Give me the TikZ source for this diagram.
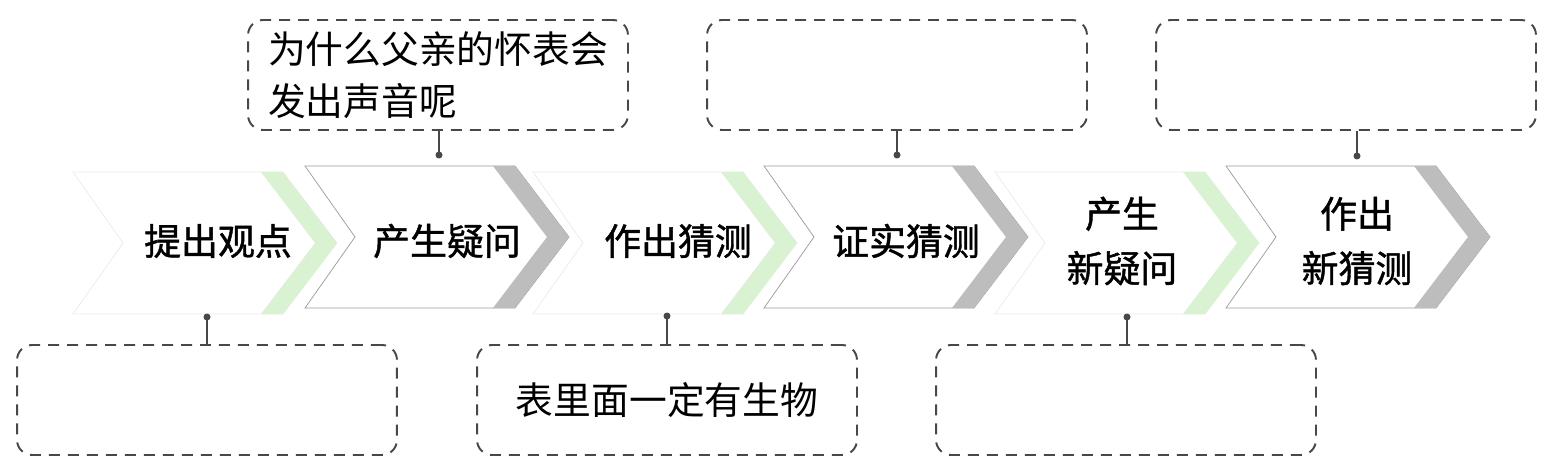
\documentclass[tikz,border=0pt]{standalone}
\usepackage{fontspec}
\setmainfont{Noto Sans CJK SC}
\newfontfamily\stagefont[BoldFont=Noto Sans CJK SC, BoldFeatures={FakeBold=1.2}]{Noto Sans CJK SC}
\usepackage{tikz}
\usetikzlibrary{positioning}

\definecolor{bandgreen}{HTML}{D9F3D2}
\definecolor{bandgrey}{HTML}{BDBDBD}
\definecolor{inkgrey}{HTML}{484848}

\begin{document}
\begin{tikzpicture}[
  x=0.02cm, y=-0.02cm,
  note/.style={draw=inkgrey, line width=1.1pt, dash pattern=on 0.22cm off 0.16cm,
    rounded corners=0.3cm, minimum width=7.6cm, minimum height=2.2cm, inner sep=0pt,
    font=\fontsize{21.5}{29.5}\selectfont, align=left},
  stage/.style={font=\stagefont\bfseries\fontsize{21}{31}\selectfont, align=center, inner sep=0pt},
  rimdark/.style={draw=black!40, line width=0.4pt, fill=white},
  rimlight/.style={draw=black!8, line width=0.4pt, fill=white},
  knob/.style={circle, fill=inkgrey, minimum size=0.14cm, inner sep=0pt},
  linkline/.style={draw=inkgrey, line width=1pt}
]
  \useasboundingbox (0,0) rectangle (1556,466);

  % chevrons
  \path[rimlight] (73,172) -- (283,172) -- (337,243) -- (283,314) -- (73,314) -- (123,243) -- cycle;
  \fill[bandgreen] (261,172) -- (283,172) -- (337,243) -- (283,314) -- (261,314) -- (315,243) -- cycle;
  \path[rimdark] (305,166) -- (515,166) -- (569,237) -- (515,308) -- (305,308) -- (355,237) -- cycle;
  \fill[bandgrey] (493,166) -- (515,166) -- (569,237) -- (515,308) -- (493,308) -- (547,237) -- cycle;
  \path[rimlight] (533,172) -- (743,172) -- (797,243) -- (743,314) -- (533,314) -- (583,243) -- cycle;
  \fill[bandgreen] (721,172) -- (743,172) -- (797,243) -- (743,314) -- (721,314) -- (775,243) -- cycle;
  \path[rimdark] (764,166) -- (974,166) -- (1028,237) -- (974,308) -- (764,308) -- (814,237) -- cycle;
  \fill[bandgrey] (952,166) -- (974,166) -- (1028,237) -- (974,308) -- (952,308) -- (1006,237) -- cycle;
  \path[rimlight] (995,172) -- (1205,172) -- (1259,243) -- (1205,314) -- (995,314) -- (1045,243) -- cycle;
  \fill[bandgreen] (1183,172) -- (1205,172) -- (1259,243) -- (1205,314) -- (1183,314) -- (1237,243) -- cycle;
  \path[rimdark] (1226,166) -- (1436,166) -- (1490,237) -- (1436,308) -- (1226,308) -- (1276,237) -- cycle;
  \fill[bandgrey] (1414,166) -- (1436,166) -- (1490,237) -- (1436,308) -- (1414,308) -- (1468,237) -- cycle;

  \node[stage] (s1) at (218,241) {提出观点};
  \node[stage] (s2) at (447,241) {产生疑问};
  \node[stage] (s3) at (678,241) {作出猜测};
  \node[stage] (s4) at (906,241) {证实猜测};
  \node[stage] (s5) at (1122,241) {产生\\新疑问};
  \node[stage] (s6) at (1357,241) {作出\\新猜测};

  % dashed boxes
  \node[note] (q1) at (438,75) {为什么父亲的怀表会\\发出声音呢};
  \node[note] (q2) at (897,75) {};
  \node[note] (q3) at (1346,75) {};
  \node[note] (a1) at (207,400) {};
  \node[note] (a2) at (667,400) {表里面一定有生物};
  \node[note] (a3) at (1126,400) {};

  % connectors
  \node[knob] (k1) at (439,155) {};
  \node[knob] (k2) at (897,155) {};
  \node[knob] (k3) at (1357,156) {};
  \node[knob] (k4) at (207,317) {};
  \node[knob] (k5) at (667,316) {};
  \node[knob] (k6) at (1127,317) {};
  \draw[linkline] (k1.center) -- (k1 |- q1.south);
  \draw[linkline] (k2.center) -- (k2 |- q2.south);
  \draw[linkline] (k3.center) -- (k3 |- q3.south);
  \draw[linkline] (k4.center) -- (k4 |- a1.north);
  \draw[linkline] (k5.center) -- (k5 |- a2.north);
  \draw[linkline] (k6.center) -- (k6 |- a3.north);
\end{tikzpicture}
\end{document}
